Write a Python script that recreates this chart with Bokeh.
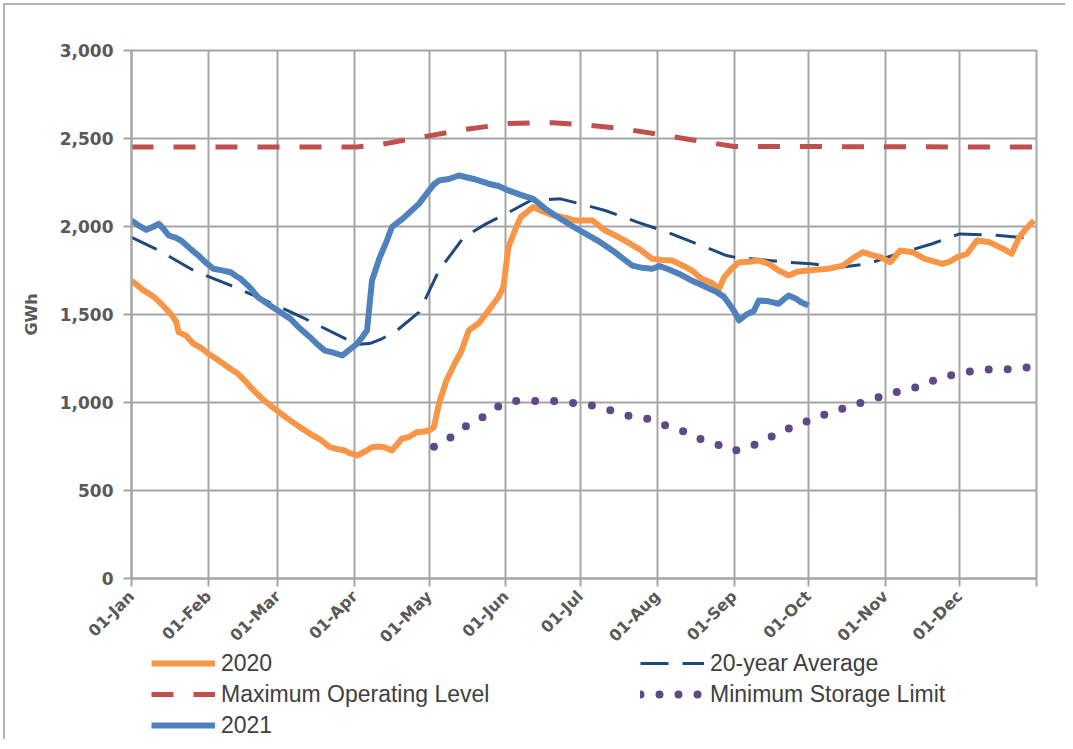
import math
from bokeh.plotting import figure
from bokeh.layouts import column
from bokeh.models import FixedTicker, Legend, LegendItem, NumeralTickFormatter, Range1d
from bokeh.embed import file_html
from bokeh.resources import INLINE

# ---- data (day of year, GWh) ----
month_days = [0, 31, 59, 90, 120, 151, 181, 212, 243, 273, 304, 334, 365]
month_labels = ["01-Jan", "01-Feb", "01-Mar", "01-Apr", "01-May", "01-Jun",
                "01-Jul", "01-Aug", "01-Sep", "01-Oct", "01-Nov", "01-Dec", ""]

y2020_days = [0, 5, 9, 12, 16, 18, 19, 22, 25, 28, 31, 34, 37, 40, 43, 46, 48, 52, 56,
              60, 64, 68, 72, 76, 80, 83, 86, 88, 91, 94, 97, 100, 102, 105, 107, 109,
              112, 115, 118, 120, 122, 124, 127, 131, 133, 136, 140, 143, 148, 150,
              152, 155, 157, 162, 166, 170, 175, 179, 186, 191, 195, 199, 205, 210,
              214, 218, 222, 226, 230, 234, 237, 239, 242, 245, 249, 253, 257, 261,
              265, 269, 273, 277, 281, 287, 291, 295, 298, 302, 306, 310, 315, 320,
              324, 327, 330, 333, 337, 341, 344, 346, 350, 352, 355, 358, 361, 364]
y2020_vals = [1693, 1636, 1600, 1561, 1500, 1460, 1400, 1380, 1334, 1310, 1277, 1250,
              1220, 1190, 1163, 1120, 1087, 1030, 983, 940, 898, 860, 822, 790, 746,
              735, 727, 712, 699, 720, 746, 750, 746, 727, 760, 794, 805, 831, 835,
              841, 860, 993, 1125, 1239, 1290, 1409, 1450, 1504, 1600, 1655, 1883,
              1990, 2053, 2110, 2085, 2063, 2050, 2034, 2034, 1977, 1950, 1920, 1870,
              1816, 1810, 1807, 1780, 1750, 1703, 1680, 1646, 1712, 1760, 1797, 1800,
              1807, 1788, 1750, 1722, 1745, 1750, 1755, 1760, 1778, 1820, 1854, 1840,
              1826, 1797, 1864, 1854, 1816, 1800, 1788, 1800, 1826, 1845, 1920, 1915,
              1911, 1883, 1870, 1845, 1939, 1990, 2034]

y2021_days = [0, 3, 6, 9, 11, 13, 15, 18, 20, 24, 27, 30, 33, 36, 40, 42, 44, 48, 51,
              55, 59, 62, 64, 68, 72, 75, 78, 81, 85, 88, 91, 93, 95, 97, 100, 103,
              105, 109, 113, 116, 119, 122, 124, 128, 132, 138, 144, 148, 152, 157,
              162, 167, 173, 178, 182, 188, 194, 198, 202, 206, 210, 213, 216, 221,
              226, 231, 236, 239, 241, 243, 245, 248, 251, 253, 257, 261, 263, 265,
              268, 270, 273]
y2021_vals = [2034, 2005, 1981, 2000, 2015, 1985, 1949, 1935, 1920, 1870, 1835, 1795,
              1760, 1752, 1740, 1720, 1703, 1650, 1598, 1560, 1523, 1495, 1476, 1420,
              1371, 1330, 1295, 1285, 1267, 1300, 1334, 1370, 1409, 1693, 1820, 1920,
              1996, 2040, 2091, 2130, 2186, 2240, 2261, 2270, 2290, 2270, 2243, 2230,
              2205, 2180, 2157, 2100, 2044, 2000, 1968, 1920, 1864, 1820, 1778, 1765,
              1760, 1775, 1760, 1730, 1693, 1660, 1627, 1600, 1561, 1520, 1466, 1500,
              1520, 1580, 1575, 1561, 1585, 1608, 1590, 1570, 1551]

avg_days = [0, 11, 25, 40, 54, 70, 85, 91, 96, 101, 107, 116, 124, 134, 143, 151, 161,
            173, 181, 191, 204, 216, 228, 240, 243, 264, 274, 286, 297, 307, 323, 334,
            350, 364]
avg_vals = [1939, 1864, 1750, 1665, 1580, 1476, 1371, 1330, 1335, 1362, 1409, 1513,
            1750, 1939, 2015, 2072, 2148, 2157, 2129, 2091, 2025, 1968, 1902, 1835,
            1826, 1797, 1788, 1769, 1788, 1835, 1902, 1958, 1949, 1930]

max_days = [0, 90, 100, 120, 135, 152, 170, 182, 197, 212, 227, 243, 365]
max_vals = [2451, 2451, 2465, 2515, 2552, 2585, 2590, 2578, 2558, 2525, 2490, 2455, 2451]

min_days = [122, 128, 134, 141, 147, 154, 163, 170, 178, 185, 193, 200, 208, 215, 222,
            229, 237, 243, 251, 258, 265, 272, 279, 286, 294, 301, 309, 316, 324, 331,
            339, 347, 355, 363]
min_vals = [748, 795, 858, 911, 972, 1009, 1009, 1009, 998, 985, 956, 926, 907, 871,
            839, 795, 758, 725, 758, 805, 852, 890, 928, 962, 998, 1028, 1061, 1085,
            1127, 1157, 1178, 1189, 1189, 1203]

y_ticks = [0, 500, 1000, 1500, 2000, 2500, 3000]

GRID = "#a6a6a6"
TXT = "#595959"

# series: (data x, data y, style) shared by chart and legend keys
series = {
    "2020": (y2020_days, y2020_vals,
             dict(line_color="#f79646", line_width=6, line_join="round")),
    "max": (max_days, max_vals,
            dict(line_color="#c0504d", line_width=5, line_dash="22 20")),
    "2021": (y2021_days, y2021_vals,
             dict(line_color="#4f81bd", line_width=6, line_join="round")),
    "avg": (avg_days, avg_vals,
            dict(line_color="#1f497d", line_width=3, line_dash="28 14")),
    "min": (min_days, min_vals,
            dict(line_color="#5f4a87", line_width=8, line_dash="0 19",
                 line_cap="round")),
}

p = figure(width=1060, height=653, output_backend="svg", toolbar_location=None,
           x_range=Range1d(0, 365), y_range=Range1d(0, 3000),
           min_border_left=126, min_border_top=45, min_border_right=29,
           min_border_bottom=80)
p.outline_line_color = GRID
p.outline_line_width = 2

p.xaxis.ticker = FixedTicker(ticks=month_days)
p.xaxis.major_label_overrides = {d: l for d, l in zip(month_days, month_labels)}
p.xaxis.major_label_orientation = math.pi / 4
p.yaxis.ticker = FixedTicker(ticks=y_ticks)
p.yaxis.formatter = NumeralTickFormatter(format="0,0")
for ax in (p.xaxis[0], p.yaxis[0]):
    ax.axis_line_color = GRID
    ax.axis_line_width = 2
    ax.major_tick_line_color = GRID
    ax.major_tick_line_width = 2
    ax.major_tick_out = 8
    ax.major_tick_in = 0
    ax.minor_tick_line_color = None
    ax.major_label_text_color = TXT
    ax.major_label_text_font = "DejaVu Sans"
    ax.major_label_text_font_style = "bold"
p.yaxis.major_label_text_font_size = "17px"
p.xaxis.major_label_text_font_size = "16px"
p.yaxis.major_label_standoff = 10
p.xaxis.major_label_standoff = 7
p.yaxis.axis_label = "GWh"
p.yaxis.axis_label_text_font = "DejaVu Sans"
p.yaxis.axis_label_text_font_style = "bold"
p.yaxis.axis_label_text_font_size = "16px"
p.yaxis.axis_label_text_color = TXT
p.yaxis.axis_label_standoff = 16

p.xgrid.ticker = FixedTicker(ticks=month_days)
p.ygrid.ticker = FixedTicker(ticks=y_ticks)
for g in (p.xgrid[0], p.ygrid[0]):
    g.grid_line_color = GRID
    g.grid_line_width = 2

for k in ["max", "min", "avg", "2020", "2021"]:
    xs, ys, st = series[k]
    p.line(xs, ys, **st)

# legend strip below the chart (keys use the same series, outside its view)
lg = figure(width=1060, height=90, output_backend="svg", toolbar_location=None,
            x_axis_type=None, y_axis_type=None, x_range=Range1d(-1, 0),
            y_range=Range1d(-1, 0), min_border=0)
lg.outline_line_color = None
lg.styles = {"margin-top": "-9px"}
keys = {k: lg.line(xs, ys, **st) for k, (xs, ys, st) in series.items()}

legend = Legend(items=[
    LegendItem(label="2020", renderers=[keys["2020"]]),
    LegendItem(label="Maximum Operating Level", renderers=[keys["max"]]),
    LegendItem(label="2021", renderers=[keys["2021"]]),
    LegendItem(label="20-year Average", renderers=[keys["avg"]]),
    LegendItem(label="Minimum Storage Limit", renderers=[keys["min"]]),
], location=(20, 0), orientation="vertical", ncols=2,
    glyph_width=64, glyph_height=28, label_height=28, label_width=416,
    label_standoff=6, spacing=3, padding=0, margin=0,
    border_line_color=None, background_fill_alpha=0,
    label_text_font="Liberation Sans", label_text_font_size="23px",
    label_text_color="#404040")
lg.add_layout(legend, "center")

page = column(p, lg, spacing=0)
page.styles = {"border-top": "2px solid #b4b4b4", "border-left": "2px solid #b4b4b4",
               "margin-left": "3px", "margin-top": "3px"}

open("out.html", "w").write(file_html(page, INLINE))
